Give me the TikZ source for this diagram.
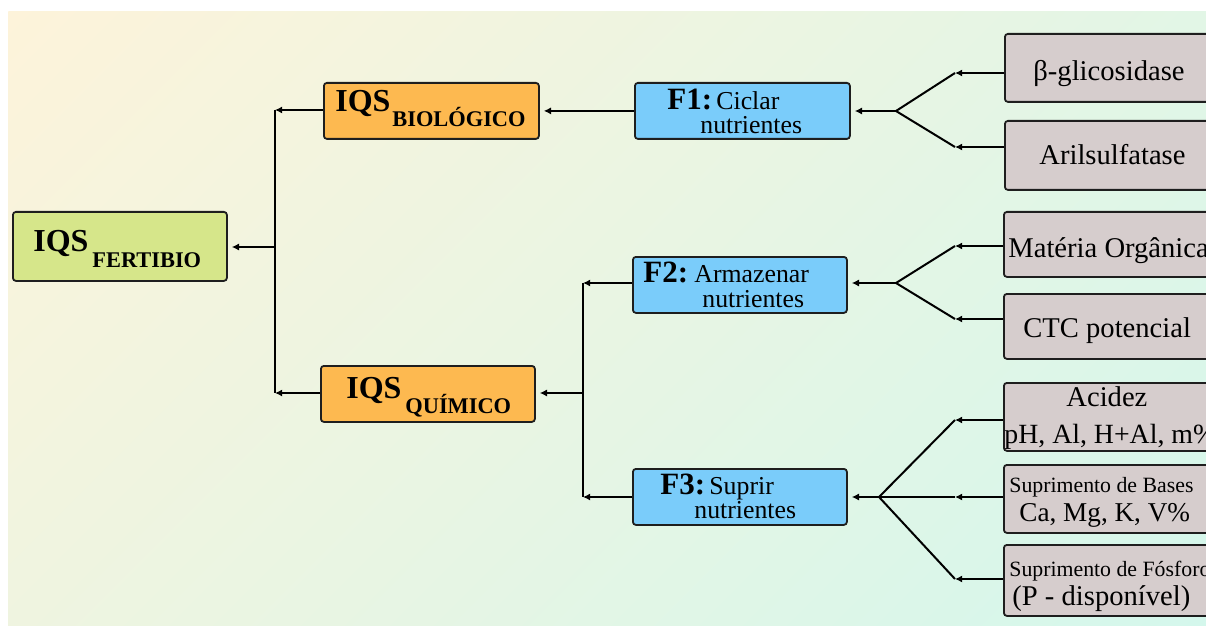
\documentclass[tikz,border=0pt]{standalone}
\usepackage{fontspec}
\setmainfont{Liberation Serif}
\newfontfamily\tnr{Liberation Serif}
\usetikzlibrary{arrows.meta}
\definecolor{bgA}{HTML}{FDF3DA}
\definecolor{bgB}{HTML}{D4F7EC}
\definecolor{greenbox}{HTML}{D6E68A}
\definecolor{orangebox}{HTML}{FDB950}
\definecolor{bluebox}{HTML}{7ACCFA}
\definecolor{graybox}{HTML}{D6CDCD}
\definecolor{edgecol}{HTML}{1E1E1E}
\begin{document}
\begin{tikzpicture}[x=0.5pt,y=-0.5pt,
  box/.style={draw=edgecol, line width=0.9pt, rounded corners=1.5pt, inner sep=0pt, anchor=north west},
  gbox/.style={box, fill=greenbox},
  obox/.style={box, fill=orangebox},
  bbox/.style={box, fill=bluebox},
  ybox/.style={box, fill=graybox, minimum width=118pt},
  txt/.style={anchor=base west, inner sep=0pt, text=black},
  tiqs/.style={txt, font=\tnr\fontsize{16}{16}\selectfont\bfseries},
  tsub/.style={txt, font=\tnr\fontsize{11.2}{11}\selectfont\bfseries},
  tfb/.style={txt, font=\tnr\fontsize{15.5}{15}\selectfont\bfseries},
  tfn/.style={txt, font=\tnr\fontsize{12.9}{13}\selectfont},
  tg/.style={txt, font=\tnr\fontsize{14.3}{15}\selectfont},
  tgs/.style={txt, font=\tnr\fontsize{10.9}{11}\selectfont},
  conn/.style={line width=1pt, draw=black},
  arr/.style={conn, -{Latex[length=3.6pt,width=3.6pt]}},
  arrb/.style={arr, shorten >=2pt}
]
\useasboundingbox (0,0) rectangle (1206,626);
\begin{scope}
  \clip (8,12) rectangle (1206,626);
  \begin{scope}[transform canvas={rotate around={-45:(8,12)}}]
    \shade[left color=bgA, right color=bgB] (8,-1200) rectangle (1289,1200);
  \end{scope}
\end{scope}
\clip (0,0) rectangle (1206,626);

% boxes
\node[gbox, minimum width=107pt, minimum height=34.5pt] (fert) at (12,211) {};
\node[obox, minimum width=107.5pt, minimum height=28pt] (bio) at (323,82) {};
\node[obox, minimum width=107pt, minimum height=28pt] (qui) at (320,365) {};
\node[bbox, minimum width=107.5pt, minimum height=28pt] (f1) at (634,82) {};
\node[bbox, minimum width=107pt, minimum height=28pt] (f2) at (632,256) {};
\node[bbox, minimum width=107pt, minimum height=28pt] (f3) at (632,468) {};
\node[ybox, minimum height=34pt] (g1) at (1004,33) {};
\node[ybox, minimum height=34.5pt] (g2) at (1004,120) {};
\node[ybox, minimum height=32.5pt] (g3) at (1003,211) {};
\node[ybox, minimum height=32.5pt] (g4) at (1003,293) {};
\node[ybox, minimum height=34pt] (g5) at (1003,382) {};
\node[ybox, minimum height=34pt] (g6) at (1003,464) {};
\node[ybox, minimum height=35.5pt] (g7) at (1003,544) {};

% texts
\node[tiqs] (fertA) at (33,251) {IQS};
\node[tsub] (fertB) at (92,267) {FERTIBIO};
\node[tiqs] (bioA) at (335,112) {IQS};
\node[tsub] (bioB) at (392,127) {BIOLÓGICO};
\node[tiqs] (quiA) at (346,398) {IQS};
\node[tsub] (quiB) at (405,413) {QUÍMICO};

\node[tfb] (f1A) at (667,110) {F1:};
\node[tfn] (f1B) at (716,110) {Ciclar};
\node[tfn] (f1C) at (700,134) {nutrientes};
\node[tfb] (f2A) at (643,283) {F2:};
\node[tfn] (f2B) at (694,283) {Armazenar};
\node[tfn] (f2C) at (702,307) {nutrientes};
\node[tfb] (f3A) at (660,494) {F3:};
\node[tfn] (f3B) at (709,494) {Suprir};
\node[tfn] (f3C) at (694,518) {nutrientes};

\node[tg] (g1t) at (1033,81) {β-glicosidase};
\node[tg] (g2t) at (1039,165) {Arilsulfatase};
\node[tg] (g3t) at (1008,257) {Matéria Orgânica};
\node[tg] (g4t) at (1023,337) {CTC potencial};
\node[tg] (g5t) at (1066,406) {Acidez};
\node[txt, font=\tnr\fontsize{13.9}{14}\selectfont] (g5u) at (1004,443) {pH, Al, H+Al, m\%};
\node[tgs] (g6t) at (1009,492) {Suprimento de Bases};
\node[txt, font=\tnr\fontsize{13.6}{14}\selectfont] (g6u) at (1019,521) {Ca, Mg, K, V\%};
\node[tgs] (g7t) at (1009,576) {Suprimento de Fósforo};
\node[tg] (g7u) at (1012,605) {(P - disponível)};

% junction coordinates
\coordinate (k1) at (896,111);
\coordinate (t1) at (955,73);
\coordinate (t2) at (955,147);
\coordinate (k2) at (896,283);
\coordinate (t3) at (955,246);
\coordinate (t4) at (955,319);
\coordinate (k3) at (879,497);
\coordinate (t5) at (955,420);
\coordinate (t6) at (955,497);
\coordinate (t7) at (955,579);
\coordinate (r1) at (275,110);
\coordinate (r2) at (275,393);
\coordinate (rm) at (275,247);
\coordinate (s1) at (583,283);
\coordinate (s2) at (583,497);
\coordinate (sm) at (583,393);

% gray boxes to forks
\draw[arr] (g1.west |- t1) -- (t1);
\draw[arr] (g2.west |- t2) -- (t2);
\draw[arr] (g3.west |- t3) -- (t3);
\draw[arr] (g4.west |- t4) -- (t4);
\draw[arr] (g5.west |- t5) -- (t5);
\draw[arr] (g6.west |- t6) -- (t6);
\draw[arr] (g7.west |- t7) -- (t7);
\draw[conn] (t1) -- (k1) -- (t2);
\draw[conn] (t3) -- (k2) -- (t4);
\draw[conn] (t5) -- (k3) -- (t7);
\draw[conn] (k3) -- (t6);
\draw[arrb] (k1) -- (f1.east |- k1);
\draw[arrb] (k2) -- (f2.east |- k2);
\draw[arrb] (k3) -- (f3.east |- k3);

% F boxes to IQS
\draw[arrb] (f1.west |- bio.east) -- (bio.east);
\draw[arr] (f2.west |- s1) -- (s1);
\draw[arr] (f3.west |- s2) -- (s2);
\draw[conn] (s1) -- (s2);
\draw[arrb] (sm) -- (qui.east |- sm);

% IQS to FERTIBIO
\draw[arr] (bio.west |- r1) -- (r1);
\draw[arr] (qui.west |- r2) -- (r2);
\draw[conn] (r1) -- (r2);
\draw[arrb] (rm) -- (fert.east |- rm);
\end{tikzpicture}
\end{document}
